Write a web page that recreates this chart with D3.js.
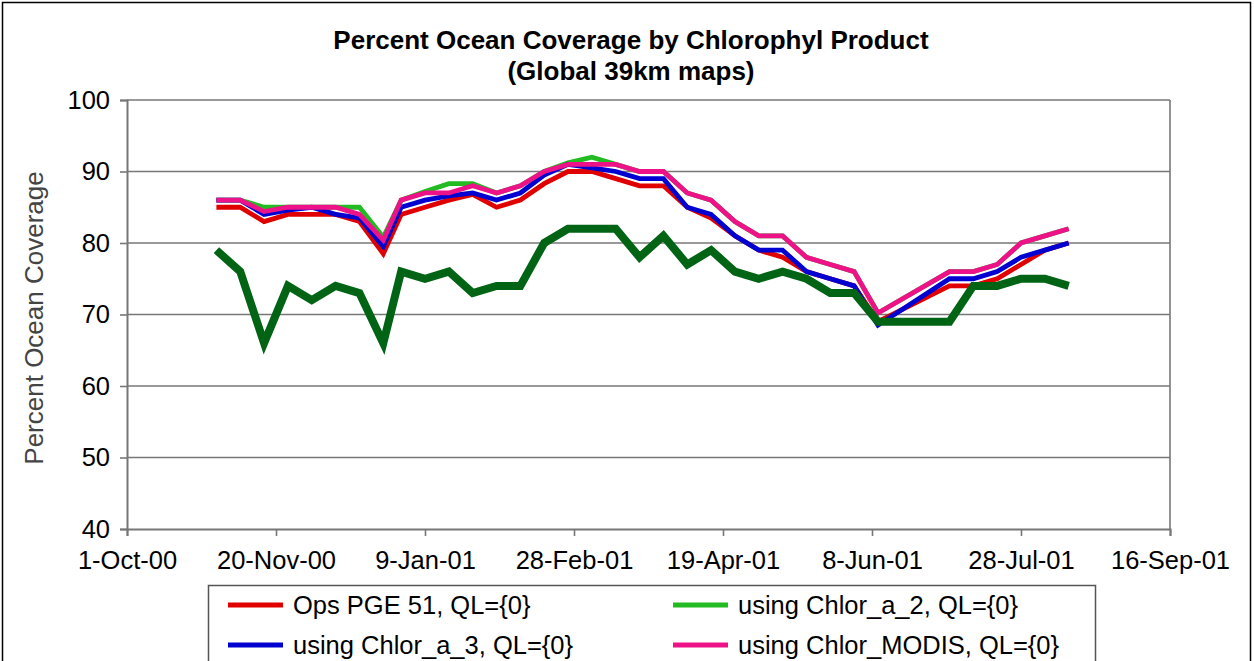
<!DOCTYPE html>
<html>
<head>
    <meta charset="utf-8">
    <script src="https://d3js.org/d3.v7.min.js"></script>
    <style>
        body { margin: 0; background: #fff; }
        text { font-family: "Liberation Sans", Arial, sans-serif; fill: #000; }
        .grid line { stroke: #777; stroke-width: 1.6; }
        .series { fill: none; stroke-linejoin: miter; }
    </style>
</head>
<body>
<svg width="1254" height="661"></svg>
<script>
    // 8-day composite start dates (no data for 18-Jun and 26-Jun)
    var dates = ["2000-10-31", "2000-11-08", "2000-11-16", "2000-11-24", "2000-12-02", "2000-12-10",
        "2000-12-18", "2000-12-26", "2001-01-01", "2001-01-09", "2001-01-17", "2001-01-25",
        "2001-02-02", "2001-02-10", "2001-02-18", "2001-02-26", "2001-03-06", "2001-03-14",
        "2001-03-22", "2001-03-30", "2001-04-07", "2001-04-15", "2001-04-23", "2001-05-01",
        "2001-05-09", "2001-05-17", "2001-05-25", "2001-06-02", "2001-06-10", "2001-07-04",
        "2001-07-12", "2001-07-20", "2001-07-28", "2001-08-05", "2001-08-13"];

    var opsPge51 = [85, 85, 83, 84, 84, 84, 83, 78.5, 84, 85, 86, 86.8, 85, 86, 88.3, 90, 90, 89,
        88, 88, 85, 83.5, 81, 79, 78, 76, 75, 74, 69, 74, 74, 75, 77, 79, 80];
    var chlorA2 = [86, 86, 85, 85, 85, 85, 85, 80.8, 86, 87.2, 88.3, 88.3, 87, 88, 90, 91.2, 92, 91,
        90, 90, 87, 86, 83, 81, 81, 78, 77, 76, 70.2, 76, 76, 77, 80, 81, 82];
    var chlorA3 = [86, 86, 84, 84.6, 85, 84, 83.5, 79.5, 85, 86, 86.6, 87, 86, 87, 89.5, 91, 90.5, 90,
        89, 89, 85, 84, 81, 79, 79, 76, 75, 74, 68.5, 75, 75, 76, 78, 79, 80];
    var chlorModis = [86, 86, 84.4, 85, 85, 85, 84, 80.4, 86, 87, 87, 88, 87, 88, 90, 91, 91, 91,
        90, 90, 87, 86, 83, 81, 81, 78, 77, 76, 70.2, 76, 76, 77, 80, 81, 82];
    var darkSeries = [79, 76, 66, 74, 72, 74, 73, 66, 76, 75, 76, 73, 74, 74, 80, 82, 82, 82,
        78, 81, 77, 79, 76, 75, 76, 75, 73, 73, 69, 69, 74, 74, 75, 75, 74];

    var xTicks = ["2000-10-01", "2000-11-20", "2001-01-09", "2001-02-28", "2001-04-19",
        "2001-06-08", "2001-07-28", "2001-09-16"];
    var yTicks = [40, 50, 60, 70, 80, 90, 100];

    var parse = d3.timeParse("%Y-%m-%d");
    var fmt = d3.timeFormat("%-d-%b-%y");

    var series = [
        {name: "Ops PGE 51, QL={0}", values: opsPge51, color: "#e00000", width: 4.8},
        {name: "using Chlor_a_2, QL={0}", values: chlorA2, color: "#22bb22", width: 4.8},
        {name: "using Chlor_a_3, QL={0}", values: chlorA3, color: "#0000d0", width: 4.8},
        {name: "using Chlor_MODIS, QL={0}", values: chlorModis, color: "#ee1289", width: 4.8},
        {name: "", values: darkSeries, color: "#006414", width: 8}
    ];

    var svg = d3.select("svg");

    // outer chart border
    svg.append("rect")
        .attr("x", 2.5).attr("y", 2.5)
        .attr("width", 1248).attr("height", 720)
        .attr("fill", "none").attr("stroke", "#000").attr("stroke-width", 1.5);

    var x = d3.scaleTime()
        .domain([parse(xTicks[0]), parse(xTicks[xTicks.length - 1])])
        .range([127, 1170]);

    var y = d3.scaleLinear()
        .domain([40, 100])
        .range([529, 100]);

    // gridlines
    svg.append("g").attr("class", "grid")
        .selectAll("line")
        .data(yTicks.slice(1))
        .enter().append("line")
        .attr("x1", x.range()[0]).attr("x2", x.range()[1])
        .attr("y1", function(d) { return y(d); })
        .attr("y2", function(d) { return y(d); });

    // right edge of plot area
    svg.append("line")
        .attr("x1", 1170).attr("x2", 1170)
        .attr("y1", y(100)).attr("y2", y(40))
        .attr("stroke", "#777").attr("stroke-width", 1.6);

    var yAxis = svg.append("g")
        .attr("transform", "translate(127,0)")
        .call(d3.axisLeft(y).tickValues(yTicks).tickSize(7).tickPadding(10));

    var xAxis = svg.append("g")
        .attr("transform", "translate(0,529)")
        .call(d3.axisBottom(x)
            .tickValues(xTicks.map(parse))
            .tickFormat(fmt)
            .tickSize(7)
            .tickPadding(15));

    [yAxis, xAxis].forEach(function(a) {
        a.selectAll(".domain").attr("stroke", "#777").attr("stroke-width", 2);
        a.selectAll(".tick line").attr("stroke", "#777").attr("stroke-width", 1.6);
        a.selectAll("text").style("font-size", "25.5px").attr("fill", "#000");
    });

    var line = d3.line()
        .x(function(d, i) { return x(parse(dates[i])); })
        .y(function(d) { return y(d); });

    svg.selectAll(".series")
        .data(series)
        .enter().append("path")
        .attr("class", "series")
        .attr("d", function(s) { return line(s.values); })
        .attr("stroke", function(s) { return s.color; })
        .attr("stroke-width", function(s) { return s.width; });

    // title
    var title = svg.append("text")
        .attr("text-anchor", "middle")
        .style("font-size", "26px")
        .style("font-weight", "bold");
    title.append("tspan").attr("x", 631).attr("y", 49).text("Percent Ocean Coverage by Chlorophyl Product");
    title.append("tspan").attr("x", 631).attr("y", 80).text("(Global 39km maps)");

    svg.append("text")
        .attr("transform", "translate(43,318) rotate(-90)")
        .attr("text-anchor", "middle")
        .style("font-size", "26px")
        .style("fill", "#444")
        .text("Percent Ocean Coverage");

    // legend, box runs past the bottom of the picture
    var legend = svg.append("g");
    legend.append("rect")
        .attr("x", 208.5).attr("y", 585.5)
        .attr("width", 887).attr("height", 120)
        .attr("fill", "#fff").attr("stroke", "#555").attr("stroke-width", 1.5);

    var items = legend.selectAll(".item")
        .data(series.slice(0, 4))
        .enter().append("g")
        .attr("transform", function(d, i) {
            return "translate(" + (i % 2 ? 673 : 228) + "," + (i < 2 ? 605 : 645) + ")";
        });
    items.append("line")
        .attr("x1", 0).attr("x2", 55)
        .attr("stroke", function(d) { return d.color; })
        .attr("stroke-width", 4.8);
    items.append("text")
        .attr("x", 65).attr("dy", "0.36em")
        .style("font-size", "25.5px")
        .text(function(d) { return d.name; });
</script>
</body>
</html>
